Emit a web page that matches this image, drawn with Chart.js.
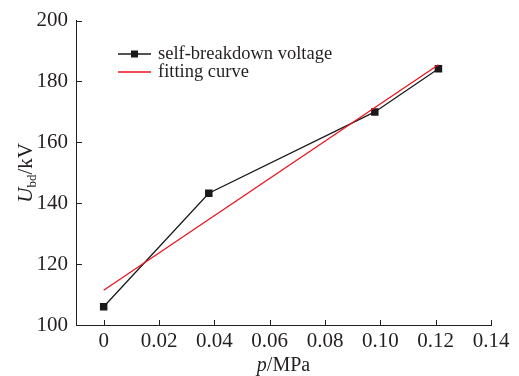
<!DOCTYPE html>
<html>
<head>
<meta charset="utf-8">
<script src="https://cdn.jsdelivr.net/npm/chart.js@4/dist/chart.umd.min.js"></script>
<style>
  html, body { margin: 0; padding: 0; background: #fff; }
  #wrap { width: 519px; height: 376px; }
</style>
</head>
<body>
<div id="wrap"><canvas id="chart"></canvas></div>
<script>
// measured points
const pressure = [0, 0.038, 0.098, 0.121];
const voltage = [106, 143.3, 170, 184.2];
// fitted straight line, end points
const fitX = [0, 0.121];
const fitY = [111.4, 185.5];

const xTicks = [0, 0.02, 0.04, 0.06, 0.08, 0.10, 0.12, 0.14];
const xTickLabels = ['0', '0.02', '0.04', '0.06', '0.08', '0.10', '0.12', '0.14'];
const yTicks = [100, 120, 140, 160, 180, 200];

const serif = '"Liberation Serif", "Times New Roman", serif';
const ink = '#231f20';

// inward ticks, axis titles and legend
const extras = {
  id: 'extras',
  afterDraw(chart) {
    const ctx = chart.ctx;
    const xs = chart.scales.x, ys = chart.scales.y;
    const a = chart.chartArea;
    ctx.save();
    ctx.strokeStyle = ink;
    ctx.lineWidth = 1;
    ctx.beginPath();
    xTicks.forEach(v => {
      const px = Math.round(xs.getPixelForValue(v)) + 0.5;
      ctx.moveTo(px, a.bottom);
      ctx.lineTo(px, a.bottom - 5);
    });
    yTicks.forEach(v => {
      const py = Math.round(ys.getPixelForValue(v)) + 0.5;
      ctx.moveTo(a.left, py);
      ctx.lineTo(a.left + 6, py);
    });
    ctx.stroke();

    ctx.fillStyle = ink;
    ctx.textBaseline = 'alphabetic';

    // x title: p/MPa
    const xt1 = 'p', xt2 = '/MPa';
    ctx.font = 'italic 20px ' + serif;
    const w1 = ctx.measureText(xt1).width;
    ctx.font = '20px ' + serif;
    const w2 = ctx.measureText(xt2).width;
    let x0 = (a.left + a.right) / 2 - (w1 + w2) / 2;
    ctx.font = 'italic 20px ' + serif;
    ctx.fillText(xt1, x0, 371);
    ctx.font = '20px ' + serif;
    ctx.fillText(xt2, x0 + w1, 371);

    // y title: U_bd/kV, rotated
    ctx.save();
    ctx.translate(32, (a.top + a.bottom) / 2);
    ctx.rotate(-Math.PI / 2);
    ctx.font = 'italic 21px ' + serif;
    const u = ctx.measureText('U').width;
    ctx.font = '13px ' + serif;
    const bd = ctx.measureText('bd').width;
    ctx.font = '21px ' + serif;
    const kv = ctx.measureText('/kV').width;
    let t = -(u + bd + kv) / 2;
    ctx.font = 'italic 21px ' + serif;
    ctx.fillText('U', t, 0);
    ctx.font = '13px ' + serif;
    ctx.fillText('bd', t + u, 4);
    ctx.font = '21px ' + serif;
    ctx.fillText('/kV', t + u + bd, 0);
    ctx.restore();

    // legend
    const lx = 118, lw = 33, ly1 = 54, ly2 = 72;
    ctx.lineWidth = 1.3;
    ctx.strokeStyle = '#1a1a1a';
    ctx.beginPath();
    ctx.moveTo(lx, ly1); ctx.lineTo(lx + lw, ly1);
    ctx.stroke();
    ctx.fillStyle = '#1a1a1a';
    ctx.fillRect(lx + lw / 2 - 3.5, ly1 - 3.5, 7, 7);
    ctx.strokeStyle = '#e8141c';
    ctx.beginPath();
    ctx.moveTo(lx, ly2); ctx.lineTo(lx + lw, ly2);
    ctx.stroke();
    ctx.fillStyle = ink;
    ctx.font = '18.5px ' + serif;
    ctx.textBaseline = 'middle';
    ctx.fillText(chart.data.datasets[0].label, 158, ly1);
    ctx.fillText(chart.data.datasets[1].label, 158, ly2);
    ctx.restore();
  }
};

new Chart(document.getElementById('chart'), {
  type: 'line',
  data: {
    datasets: [{
      label: 'self-breakdown voltage',
      data: pressure.map((p, i) => ({ x: p, y: voltage[i] })),
      borderColor: '#1a1a1a',
      borderWidth: 1.3,
      pointStyle: 'rect',
      pointRadius: 5.3,
      pointBackgroundColor: '#1a1a1a',
      pointBorderWidth: 0,
      tension: 0,
      order: 2
    }, {
      label: 'fitting curve',
      data: fitX.map((p, i) => ({ x: p, y: fitY[i] })),
      borderColor: '#e8141c',
      borderWidth: 1.3,
      pointRadius: 0,
      tension: 0,
      order: 1
    }]
  },
  options: {
    responsive: true,
    maintainAspectRatio: false,
    animation: false,
    layout: { padding: { top: 17, right: 28, left: 0, bottom: 0 } },
    plugins: { legend: { display: false }, tooltip: { enabled: false } },
    scales: {
      x: {
        type: 'linear',
        min: -0.01,
        max: 0.14,
        afterBuildTicks: s => { s.ticks = xTicks.map(v => ({ value: v })); },
        afterFit: s => { s.height = 51; },
        grid: { display: false, drawTicks: false },
        border: { display: true, color: ink, width: 1 },
        ticks: {
          padding: 4,
          color: ink,
          font: { family: serif, size: 21 },
          callback: (v, i) => xTickLabels[i]
        }
      },
      y: {
        min: 100,
        max: 200,
        afterBuildTicks: s => { s.ticks = yTicks.map(v => ({ value: v })); },
        afterFit: s => { s.width = 76; },
        grid: { display: false, drawTicks: false },
        border: { display: true, color: ink, width: 1 },
        ticks: {
          padding: 8,
          color: ink,
          font: { family: serif, size: 21 }
        }
      }
    }
  },
  plugins: [extras]
});
</script>
</body>
</html>
